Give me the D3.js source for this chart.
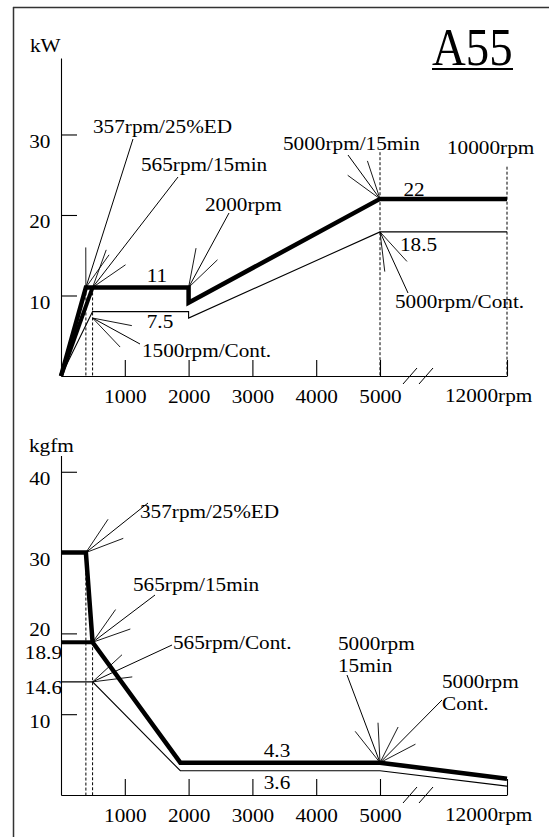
<!DOCTYPE html>
<html><head><meta charset="utf-8">
<script src="https://cdn.jsdelivr.net/npm/d3@7"></script>
<style>html,body{margin:0;padding:0;background:#fff;}svg{display:block;}</style>
</head><body>
<script>
// ---------- DATA ----------
const rpmTicks = [1000, 2000, 3000, 4000, 5000, 12000];
const powerTicks = [10, 20, 30];
const torqueTicks = [10, 20, 30, 40];
const torqueExtraLabels = ["18.9", "14.6"];
const torqueExtraValues = [18.9, 14.6];

// Power (kW) – short-time (25%ED / 15 min) curve, thick
const power15Rpm = [0, 390, 2000, 2000, 5000, 12000];
const power15Kw  = [0, 11, 11, 9.1, 22, 22];
const power25Rpm = [0, 495];
const power25Kw  = [0, 11];
// Power (kW) – continuous curve, thin
const powerContRpm = [0, 495, 2000, 2000, 5000, 12000];
const powerContKw  = [0, 8.0, 8.0, 7.2, 17.9, 17.9];

// Torque (kgfm) – short-time curve, thick
const torque15Rpm = [0, 390, 495, 1870, 5000, 12000];
const torque15Val = [30, 30, 18.9, 4.0, 4.0, 2.0];
const torque25Rpm = [0, 495];
const torque25Val = [18.9, 18.9];
// Torque – continuous, thin
const torqueContRpm = [0, 495, 1870, 5000, 12000];
const torqueContVal = [14.0, 14.0, 3.0, 3.0, 1.1];

// dotted guide lines (rpm, upper value)
const powerGuideRpm = [390, 495, 5000, 12000];
const powerGuideTop = [11, 11, 27.8, 26];
const torqueGuideRpm = [390, 495];
const torqueGuideTop = [30, 18.9];

// annotations
const powerAnnText = ["357rpm/25%ED", "565rpm/15min", "2000rpm", "1500rpm/Cont.", "5000rpm/15min", "5000rpm/Cont."];
const powerAnnRpm  = [390, 495, 2000, 495, 5000, 5000];
const powerAnnVal  = [11, 11, 11, 7.2, 22, 17.9];
const torqueAnnText = [["357rpm/25%ED"], ["565rpm/15min"], ["565rpm/Cont."], ["5000rpm", "15min"], ["5000rpm", "Cont."]];
const torqueAnnRpm  = [390, 495, 495, 5000, 5000];
const torqueAnnVal  = [30, 18.9, 14.0, 4.0, 4.0];

const powerValueLabels = ["11", "7.5", "22", "18.5", "10000rpm"];
const torqueValueLabels = ["4.3", "3.6"];

// ---------- LAYOUT ----------
const W = 549, H = 837;
const FONT = "'Liberation Serif','Times New Roman',serif";
const FS = 18, SX = 1.18;

const powerAnnLayout = [ // label x, baseline y, leader start x, y
  [93, 133, 133, 139], [141, 171, 178, 177], [205, 211, 229, 213],
  [142, 357, 140, 344], [283, 150, 348, 155], [395, 308, 408, 293]];
const torqueAnnLayout = [
  [140, 518, 148, 503], [133, 591, 155, 595], [173, 649, 172, 645],
  [338, 650, 347, 675], [442, 688, 442, 700]];
const powerValueLayout = [[157, 282, "middle"], [160, 328, "middle"], [414, 196, "middle"], [400, 251, "start"], [447, 154, "start"]];
const torqueValueLayout = [[277, 757, "middle"], [277, 789, "middle"]];

const svg = d3.select("body").append("svg").attr("width", W).attr("height", H)
  .style("font-family", FONT);

function txt(g, x, y, s, anchor = "start", size = FS, sx = SX) {
  return g.append("text").attr("transform", `translate(${x},${y}) scale(${sx},1)`)
    .attr("text-anchor", anchor).attr("font-size", size).attr("fill", "#000").text(s);
}
function arrow(g, px, py, lx, ly) {
  g.append("line").attr("x1", lx).attr("y1", ly).attr("x2", px).attr("y2", py)
    .attr("stroke", "#000").attr("stroke-width", 1);
  const a = Math.atan2(ly - py, lx - px), L = 40;
  [-0.31, 0.31].forEach(d => {
    g.append("line").attr("x1", px).attr("y1", py)
      .attr("x2", px + L * Math.cos(a + d)).attr("y2", py + L * Math.sin(a + d))
      .attr("stroke", "#000").attr("stroke-width", 0.9);
  });
}

// frame
svg.append("line").attr("x1", 13.5).attr("y1", 7).attr("x2", 13.5).attr("y2", H).attr("stroke", "#333").attr("stroke-width", 1.5);
svg.append("line").attr("x1", 13).attr("y1", 7.5).attr("x2", W).attr("y2", 7.5).attr("stroke", "#333").attr("stroke-width", 1.5);

// title
txt(svg, 432, 65, "A55", "start", 52, 0.9);
svg.append("line").attr("x1", 432).attr("x2", 513).attr("y1", 69).attr("y2", 69).attr("stroke", "#000").attr("stroke-width", 2);

function panel(cfg) {
  const g = svg.append("g");
  const x = d3.scaleLinear().domain([0, 5000, 12000]).range([61, 380, 507]);
  const y = d3.scaleLinear().domain(cfg.yDomain).range(cfg.yRange);
  const base = y(0);

  // y axis
  const ya = g.append("g").attr("transform", "translate(61,0)")
    .call(d3.axisLeft(y).tickValues(cfg.yTicks).tickSize(-16).tickSizeOuter(0).tickPadding(9));
  // x axis
  const xa = g.append("g").attr("transform", `translate(0,${base})`)
    .call(d3.axisBottom(x).tickValues(rpmTicks).tickSize(-16).tickSizeOuter(0).tickPadding(14)
      .tickFormat(d => d === 12000 ? "" : d));
  [ya, xa].forEach(a => {
    a.attr("font-family", null).attr("font-size", null);
    a.selectAll("path,line").attr("stroke", "#000").attr("stroke-width", 1.1);
    a.selectAll("text").attr("font-size", FS).attr("fill", "#000")
      .attr("transform", `scale(${SX},1)`);
  });
  ya.selectAll("text").attr("dy", d => (cfg.yTickDy && cfg.yTickDy[d]) || "0.72em");
  txt(g, 445, base + 26, "12000rpm");
  txt(g, cfg.unitX, cfg.unitY, cfg.unit);

  // break marks
  [30, 46].forEach(o => {
    g.append("line").attr("x1", x(5000) + o - 7).attr("y1", base + 8)
      .attr("x2", x(5000) + o + 7).attr("y2", base - 8).attr("stroke", "#000").attr("stroke-width", 1);
  });

  // guides
  cfg.guideRpm.forEach((r, i) => {
    g.append("line").attr("x1", x(r)).attr("x2", x(r)).attr("y1", y(cfg.guideTop[i])).attr("y2", base)
      .attr("stroke", "#000").attr("stroke-width", 1).attr("stroke-dasharray", "3,2");
  });

  const line = d3.line().x(d => x(d[0])).y(d => y(d[1]));
  cfg.curves.forEach(c => {
    g.append("path").attr("d", line(d3.zip(c.rpm, c.val))).attr("fill", "none")
      .attr("stroke", "#000").attr("stroke-width", c.w).attr("stroke-linejoin", "miter");
  });

  cfg.ann.forEach((a, i) => {
    const L = cfg.annLayout[i];
    const lines = Array.isArray(a.text) ? a.text : [a.text];
    lines.forEach((s, k) => txt(g, L[0], L[1] + k * 22, s));
    arrow(g, x(a.rpm), y(a.val), L[2], L[3]);
  });
  cfg.values.forEach((s, i) => {
    const L = cfg.valueLayout[i];
    txt(g, L[0], L[1], s, L[2]);
  });
  (cfg.extraLabels || []).forEach((s, i) => {
    txt(g, 62, y(cfg.extraValues[i]) + 17, s, "end");
  });
  return {x, y};
}

panel({
  yDomain: [0, 39.5], yRange: [376, 58], yTicks: powerTicks,
  unit: "kW", unitX: 30, unitY: 52,
  guideRpm: powerGuideRpm, guideTop: powerGuideTop,
  curves: [
    {rpm: powerContRpm, val: powerContKw, w: 1.1},
    {rpm: power25Rpm, val: power25Kw, w: 4},
    {rpm: power15Rpm, val: power15Kw, w: 4.5}],
  ann: powerAnnText.map((t, i) => ({text: t, rpm: powerAnnRpm[i], val: powerAnnVal[i]})),
  annLayout: powerAnnLayout,
  values: powerValueLabels, valueLayout: powerValueLayout
});

panel({
  yDomain: [0, 42], yRange: [795, 455.6], yTicks: torqueTicks, yTickDy: {20: "0.12em"},
  unit: "kgfm", unitX: 29, unitY: 452,
  guideRpm: torqueGuideRpm, guideTop: torqueGuideTop,
  curves: [
    {rpm: torqueContRpm, val: torqueContVal, w: 1.1},
    {rpm: torque25Rpm, val: torque25Val, w: 4},
    {rpm: torque15Rpm, val: torque15Val, w: 4.5}],
  ann: torqueAnnText.map((t, i) => ({text: t, rpm: torqueAnnRpm[i], val: torqueAnnVal[i]})),
  annLayout: torqueAnnLayout,
  values: torqueValueLabels, valueLayout: torqueValueLayout,
  extraLabels: torqueExtraLabels, extraValues: torqueExtraValues
});
</script>
</body></html>
